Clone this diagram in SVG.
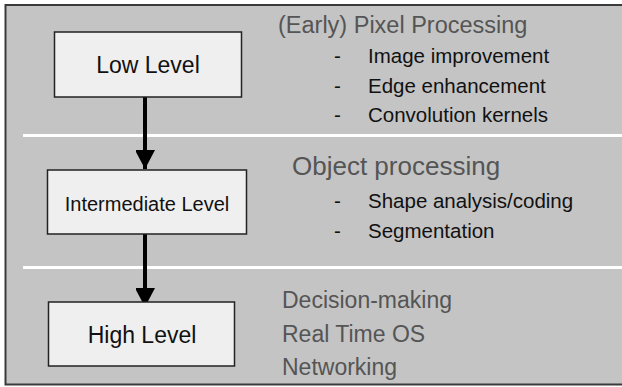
<svg xmlns="http://www.w3.org/2000/svg" width="622" height="387" viewBox="0 0 622 387">
<style>
.box{fill:#efefef;stroke:#222;stroke-width:1.5}
.lbl{font-family:"Liberation Sans",Arial,sans-serif;fill:#111;text-anchor:middle}
.head{font-family:"Liberation Sans",Arial,sans-serif;fill:#555}
.item{font-family:"Liberation Sans",Arial,sans-serif;fill:#111;font-size:20.5px}
.div{stroke:#fff;stroke-width:3}
.conn{stroke:#000;stroke-width:4;fill:none}
</style>
<defs>
<marker id="ah" markerUnits="userSpaceOnUse" markerWidth="20" markerHeight="19" refX="19" refY="10" orient="auto">
<path d="M0,0 L19,10 L0,20 Z" fill="#000"/>
</marker>
</defs>
<rect x="0" y="0" width="622" height="387" fill="#fff"/>
<rect x="5.5" y="5" width="630" height="379.5" fill="#c4c4c4" stroke="#3a3a3a" stroke-width="2"/>
<g id="dividers">
<line class="div" x1="23" y1="135.5" x2="622" y2="135.5"/>
<line class="div" x1="23" y1="267.5" x2="622" y2="267.5"/>
</g>
<g id="connectors">
<line class="conn" x1="145" y1="97" x2="145" y2="169" marker-end="url(#ah)"/>
<line class="conn" x1="145" y1="234" x2="145" y2="307" marker-end="url(#ah)"/>
</g>
<g id="low">
<rect class="box" x="54.5" y="32" width="187" height="65"/>
<text class="lbl" x="148" y="73" font-size="23">Low Level</text>
</g>
<g id="intermediate">
<rect class="box" x="47.5" y="170" width="199" height="64"/>
<text class="lbl" x="147" y="211" font-size="20">Intermediate Level</text>
</g>
<g id="high">
<rect class="box" x="48.5" y="302" width="186" height="64"/>
<text class="lbl" x="142" y="343" font-size="23">High Level</text>
</g>
<g id="low-notes">
<text class="head" x="278" y="33" font-size="23.5">(Early) Pixel Processing</text>
<text class="item" x="334" y="63">-</text><text class="item" x="368" y="63">Image improvement</text>
<text class="item" x="334" y="93">-</text><text class="item" x="368" y="93">Edge enhancement</text>
<text class="item" x="334" y="122">-</text><text class="item" x="368" y="122">Convolution kernels</text>
</g>
<g id="intermediate-notes">
<text class="head" x="292" y="175" font-size="26">Object processing</text>
<text class="item" x="334" y="208">-</text><text class="item" x="368" y="208">Shape analysis/coding</text>
<text class="item" x="334" y="238">-</text><text class="item" x="368" y="238">Segmentation</text>
</g>
<g id="high-notes">
<text class="head" x="282" y="308" font-size="23">Decision-making</text>
<text class="head" x="282" y="342" font-size="23">Real Time OS</text>
<text class="head" x="282" y="375" font-size="23">Networking</text>
</g>
</svg>
